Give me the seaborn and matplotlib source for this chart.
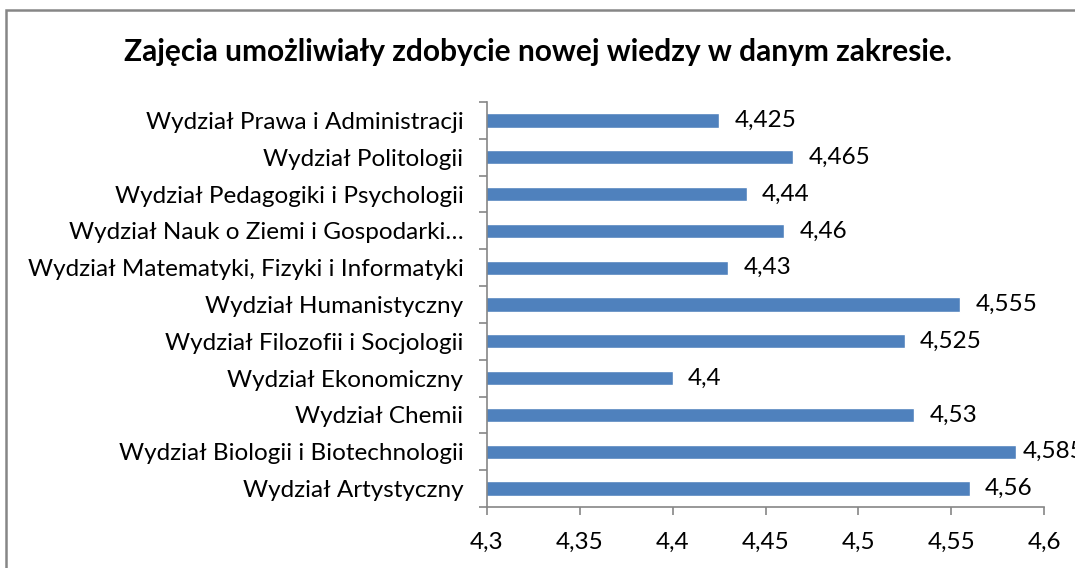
import matplotlib
matplotlib.use("Agg")
import matplotlib.pyplot as plt
import seaborn as sns
import pandas as pd
from matplotlib.patches import Rectangle
from matplotlib.ticker import FuncFormatter, MultipleLocator

wydzialy = [
    "Wydział Prawa i Administracji",
    "Wydział Politologii",
    "Wydział Pedagogiki i Psychologii",
    "Wydział Nauk o Ziemi i Gospodarki…",
    "Wydział Matematyki, Fizyki i Informatyki",
    "Wydział Humanistyczny",
    "Wydział Filozofii i Socjologii",
    "Wydział Ekonomiczny",
    "Wydział Chemii",
    "Wydział Biologii i Biotechnologii",
    "Wydział Artystyczny",
]
oceny = [4.425, 4.465, 4.44, 4.46, 4.43, 4.555, 4.525, 4.4, 4.53, 4.585, 4.56]
etykiety = ["4,425", "4,465", "4,44", "4,46", "4,43", "4,555", "4,525", "4,4", "4,53", "4,585", "4,56"]

df = pd.DataFrame({"wydzial": wydzialy, "ocena": oceny})

sns.set_style("white")
plt.rcParams["font.family"] = ["Lato", "DejaVu Sans"]
plt.rcParams["text.color"] = "black"
plt.rcParams["xtick.labelcolor"] = "black"
plt.rcParams["ytick.labelcolor"] = "black"
fs = 17.5

fig = plt.figure(figsize=(10.75, 5.68), dpi=100)
ax = fig.add_axes([487 / 1075, 1 - 507 / 568, (1044 - 487) / 1075, (507 - 102) / 568])

sns.barplot(data=df, x="ocena", y="wydzial", orient="h", color="#4F81BD",
            saturation=1, width=0.39, ax=ax)

ax.set_xlim(4.3, 4.6)
ax.set_ylim(len(wydzialy) - 0.5, -0.5)
ax.xaxis.set_major_locator(MultipleLocator(0.05))
ax.xaxis.set_major_formatter(FuncFormatter(lambda v, p: f"{v:.2f}".rstrip("0").replace(".", ",")))
ax.set_xlabel("")
ax.set_ylabel("")

# tick marks between categories, like Excel
ax.set_yticks(range(len(wydzialy)))
ax.set_yticks([i - 0.5 for i in range(len(wydzialy) + 1)], minor=True)
ax.tick_params(axis="y", which="major", length=0, pad=17, labelsize=fs, labelcolor="black")
ax.tick_params(axis="y", which="minor", length=6, color="#868686", width=1.2, left=True)
ax.tick_params(axis="x", length=6, color="#868686", width=1.2, bottom=True, pad=12,
               labelsize=fs, labelcolor="black")

for s in ["top", "right"]:
    ax.spines[s].set_visible(False)
for s in ["left", "bottom"]:
    ax.spines[s].set_color("#868686")
    ax.spines[s].set_linewidth(1.2)

for i, (v, t) in enumerate(zip(oceny, etykiety)):
    # the label next to the longest bar sits closer to it, as in the original
    dx = 4.5 if v == max(oceny) else 11
    ax.annotate(t, (v, i), xytext=(dx, 0), textcoords="offset points",
                va="center", ha="left", fontsize=fs, color="black", annotation_clip=False)

fig.text(0.5, 1 - 52 / 568, "Zajęcia umożliwiały zdobycie nowej wiedzy w danym zakresie.",
         ha="center", va="center", fontsize=21.5, fontweight="bold", color="black")

fig.patches.append(Rectangle((6 / 1075, -0.1), 1.2, 1 - 10 / 568 + 0.1,
                             transform=fig.transFigure, fill=False,
                             edgecolor="#868686", linewidth=1.8))

fig.savefig("out.png", dpi=100)
